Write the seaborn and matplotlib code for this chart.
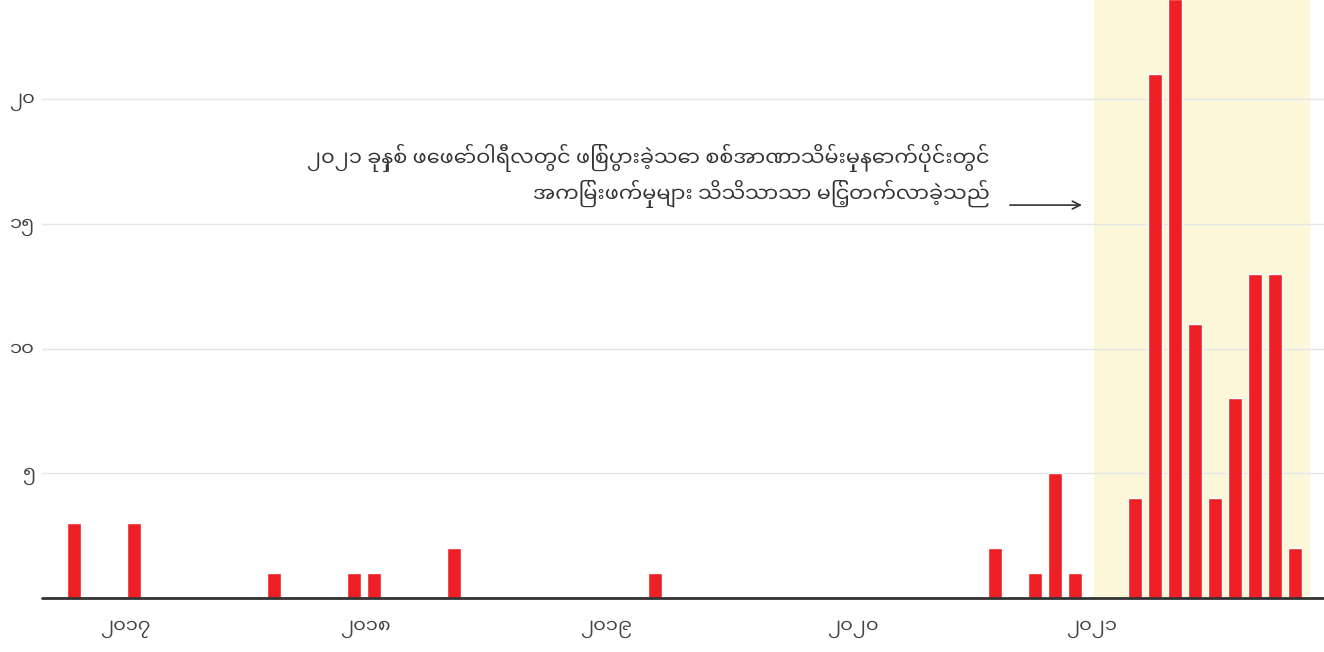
import numpy as np
import pandas as pd
import matplotlib
matplotlib.use('Agg')
import matplotlib.pyplot as plt
import seaborn as sns
from matplotlib import font_manager as fm
from matplotlib.ft2font import FT2Font

# month index (0 = first month of ၂၀၁၇) and number of incidents
months = [-3, 0, 7, 11, 12, 16, 26, 43, 45, 46, 47, 50, 51, 52, 53, 54, 55, 56, 57, 58]
counts = [3, 3, 1, 1, 1, 2, 1, 2, 1, 5, 1, 4, 21, 24, 11, 4, 8, 13, 13, 2]

year_labels = ['၂၀၁၇', '၂၀၁၈', '၂၀၁၉', '၂၀၂၀', '၂၀၂၁']
year_pos = [-0.45, 11.55, 23.6, 35.9, 47.85]
y_ticks = [5, 10, 15, 20]
y_labels = ['၅', '၁၀', '၁၅', '၂၀']

note_line1 = '၂၀၂၁ ခုနှစ် ဖေဖော်ဝါရီလတွင် ဖြစ်ပွားခဲ့သော စစ်အာဏာသိမ်းမှုနောက်ပိုင်းတွင်'
note_line2 = 'အကြမ်းဖက်မှုများ သိသိသာသာ မြင့်တက်လာခဲ့သည်'

# pick a proper Myanmar font (Noto Sans Myanmar UI preferred)
mm_family = None
paths = sorted(fm.findSystemFonts())
preferred = [p for p in paths if 'NotoSansMyanmarUI-Regular' in p]
preferred += [p for p in paths if 'NotoSansMyanmar' in p and 'Regular' in p]
preferred += [p for p in paths if 'MyanmarSansPro' in p]
for path in preferred:
    try:
        fm.fontManager.addfont(path)
        mm_family = fm.FontProperties(fname=path).get_name()
        break
    except Exception:
        continue
if mm_family is None:
    for path in paths:
        if 'unifont' in path.lower():
            continue
        try:
            cmap = FT2Font(path).get_charmap()
        except Exception:
            continue
        if 0x1000 in cmap:
            fm.fontManager.addfont(path)
            mm_family = fm.FontProperties(fname=path).get_name()
            break

sns.set_style('white')
plt.rcParams['font.family'] = ([mm_family] if mm_family else []) + ['DejaVu Sans']

df = pd.DataFrame({'month': months, 'count': counts})

fig = plt.figure(figsize=(13.24, 6.52), dpi=100)
ax = fig.add_axes([0.0317, 0.0828, 0.9683, 0.9172])

# shaded period after the coup
ax.axvspan(47.95, 58.75, color='#fdf7da', zorder=0, lw=0)

for t in y_ticks:
    ax.axhline(t, color='#e3e5e8', lw=1, zorder=0.5)

sns.barplot(data=df, x='month', y='count', native_scale=True, width=0.7,
            color='#ee1f25', saturation=1, ax=ax, zorder=2)

ax.set_xlim(-4.6, 59.44)
ax.set_ylim(0, 23.97)
ax.axhline(0, color='#333333', lw=2, zorder=3, clip_on=False)

ax.set_yticks(y_ticks)
ax.set_yticklabels(y_labels, fontsize=14, color='#444444')
ax.set_xticks(year_pos)
ax.set_xticklabels(year_labels, fontsize=14, color='#444444')
ax.tick_params(axis='y', length=0, pad=5)
ax.tick_params(axis='x', length=0, pad=15)
ax.set_xlabel('')
ax.set_ylabel('')
for s in ax.spines.values():
    s.set_visible(False)

ax.text(42.75, 17.31, note_line1, ha='right', va='baseline', fontsize=15, color='#333333')
ax.text(42.75, 15.87, note_line2, ha='right', va='baseline', fontsize=15, color='#333333')
ax.annotate('', xy=(47.35, 15.75), xytext=(43.75, 15.75),
            arrowprops=dict(arrowstyle='->', color='#333333', lw=1.2,
                            shrinkA=0, shrinkB=0, mutation_scale=14))

fig.savefig('out.png', dpi=100)
